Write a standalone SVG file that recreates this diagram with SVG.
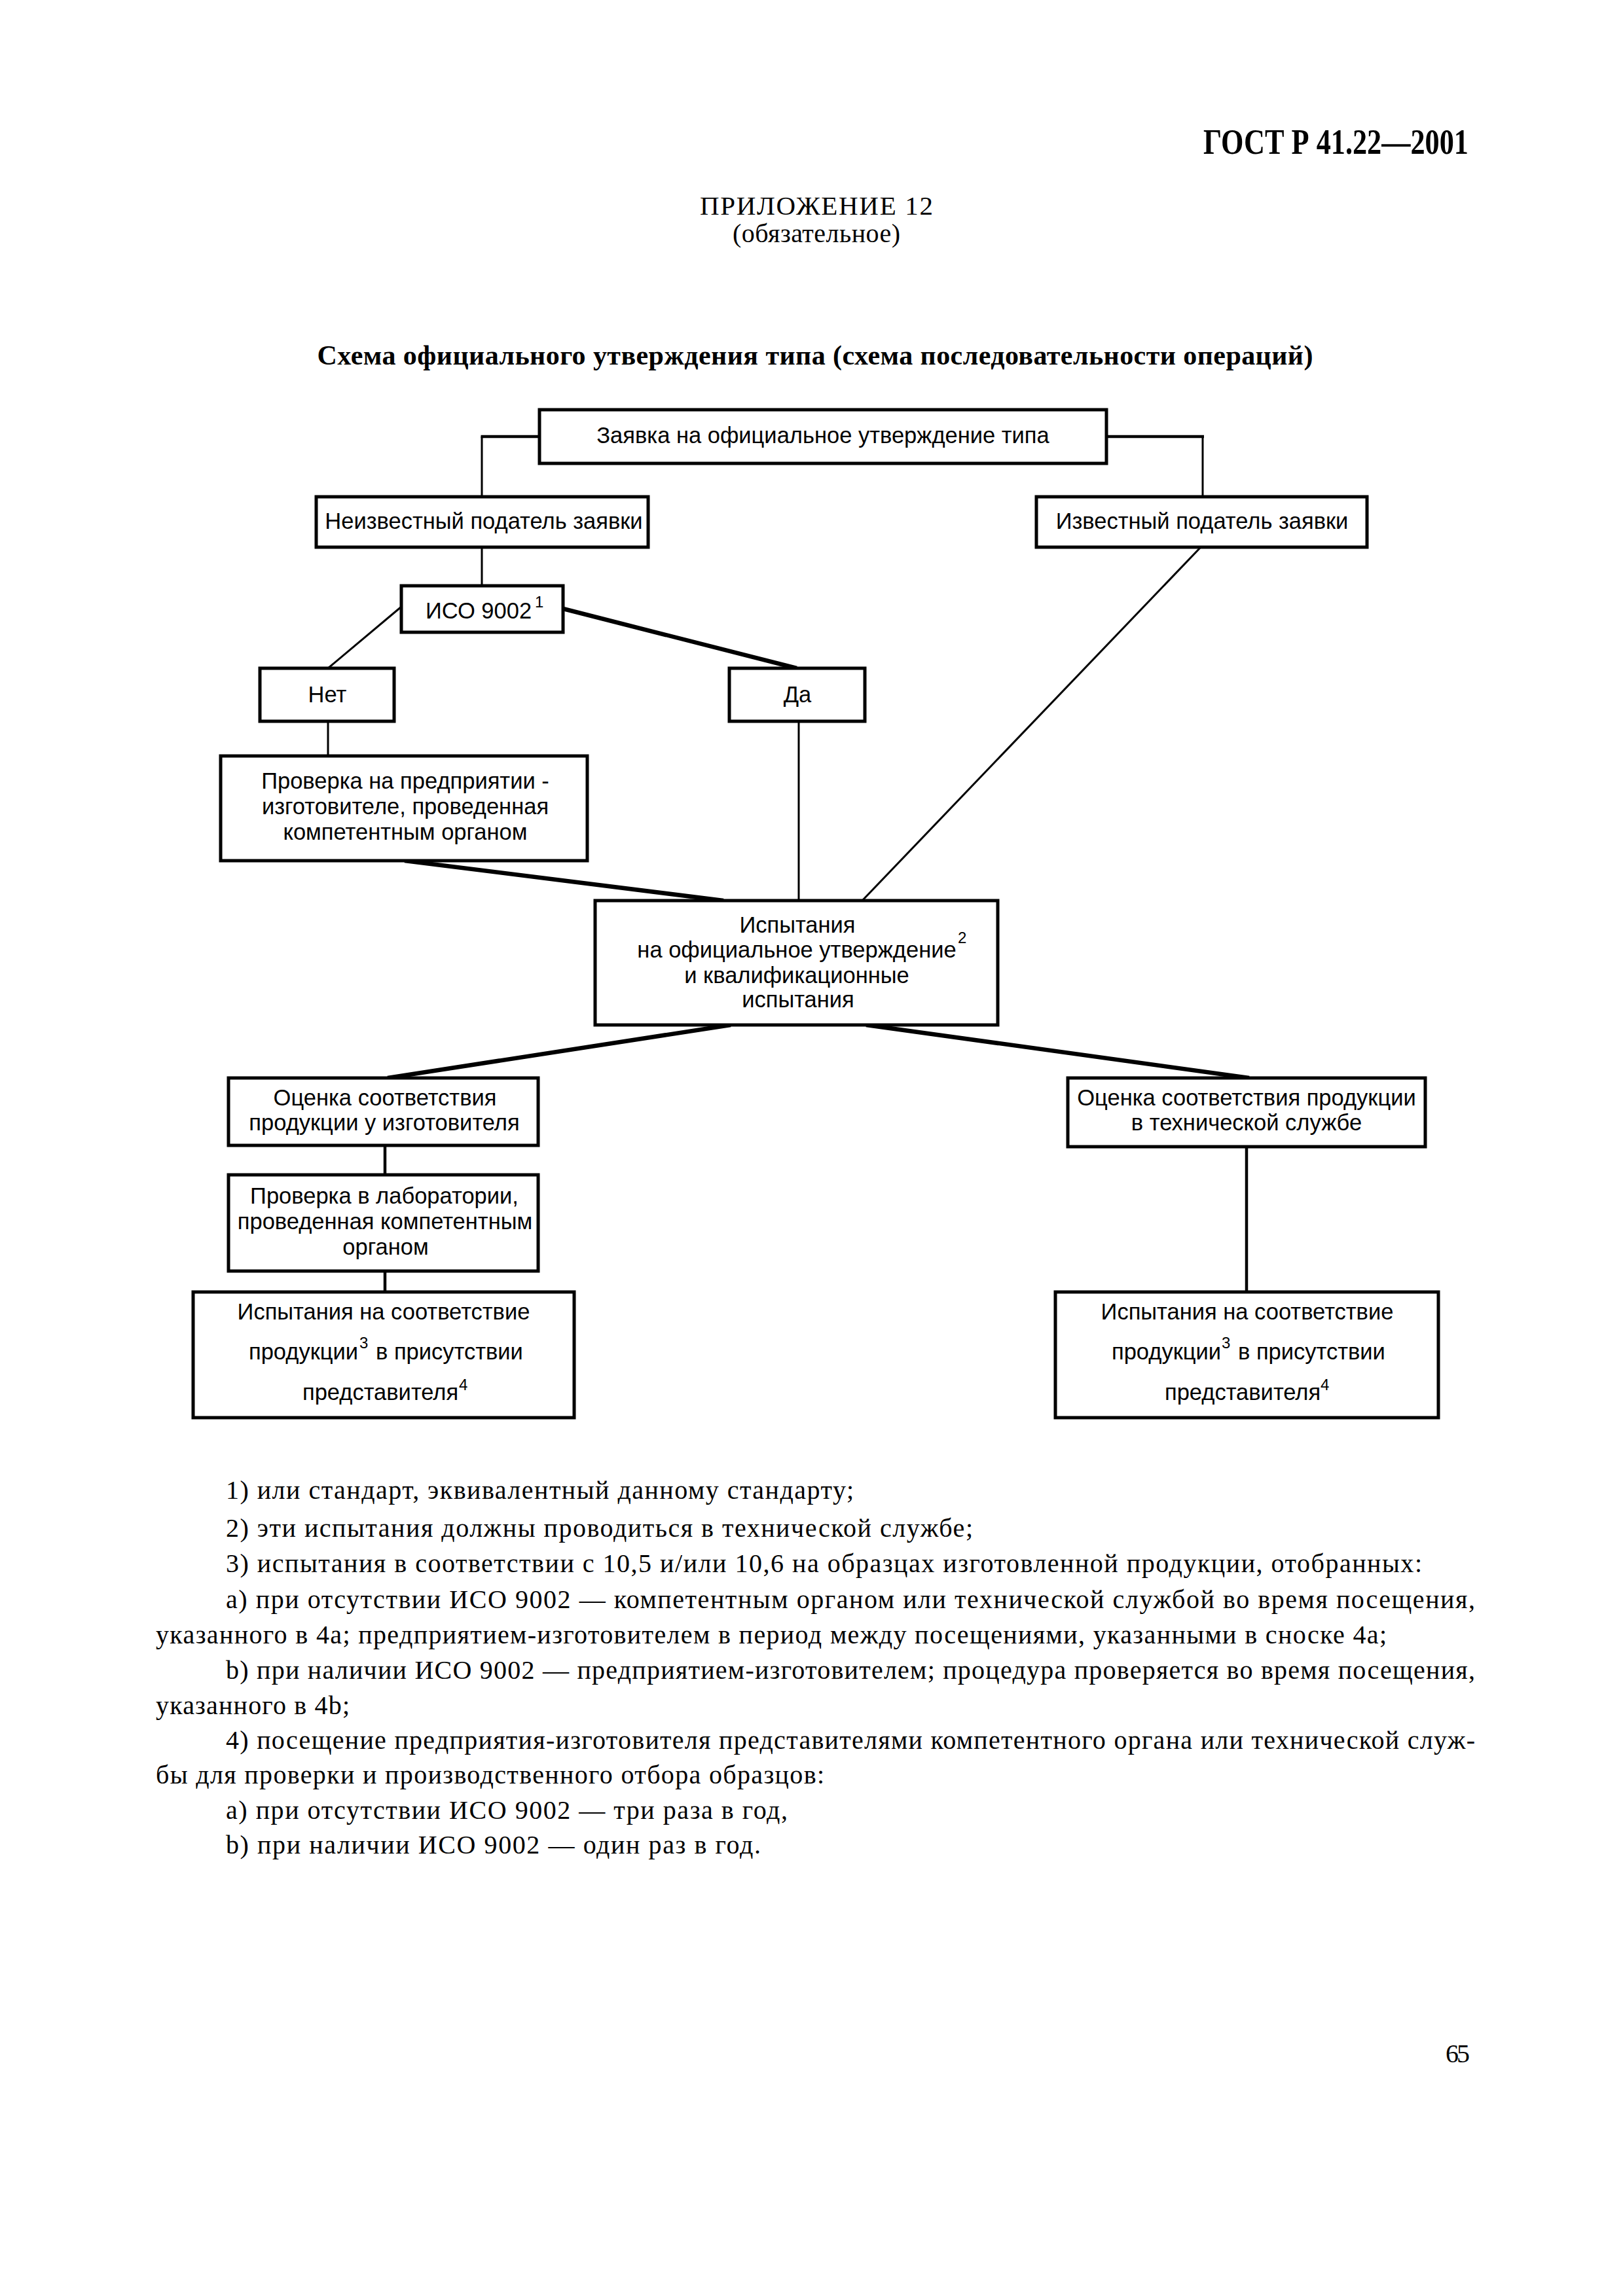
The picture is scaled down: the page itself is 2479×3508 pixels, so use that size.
<svg xmlns="http://www.w3.org/2000/svg" width="2479" height="3508" viewBox="0 0 2479 3508">
<style>
.box{fill:#fff;stroke:#000;stroke-width:5}
.c{fill:none;stroke:#000;stroke-linecap:butt}
.thin{stroke-width:3}
.mid{stroke-width:4.5}
.thick{stroke-width:6.5}
.t{font-family:"Liberation Sans",Arial,sans-serif;font-size:34.5px;fill:#000;text-anchor:middle}
.ts{font-family:"Liberation Sans",Arial,sans-serif;font-size:34.5px;fill:#000}
.sup{font-family:"Liberation Sans",Arial,sans-serif;font-size:24px;fill:#000}
.serif{font-family:"Liberation Serif","Times New Roman",serif;fill:#000}
.fn{font-family:"Liberation Serif","Times New Roman",serif;font-size:40px;fill:#000}
</style>
<rect x="0" y="0" width="2479" height="3508" fill="#fff"/>

<g id="header">
<text class="serif" x="1838" y="235" font-size="54" font-weight="bold" textLength="405" lengthAdjust="spacingAndGlyphs">ГОСТ Р 41.22—2001</text>
<text class="serif" x="1247" y="328" font-size="41" text-anchor="middle" textLength="356">ПРИЛОЖЕНИЕ 12</text>
<text class="serif" x="1247" y="370" font-size="40" text-anchor="middle" textLength="256">(обязательное)</text>
<text class="serif" x="1245" y="557" font-size="42" font-weight="bold" text-anchor="middle" textLength="1521">Схема официального утверждения типа (схема последовательности операций)</text>
</g>

<g id="connectors">
<line class="c mid" x1="824" y1="667" x2="734.5" y2="667"/>
<line class="c thin" x1="736" y1="667" x2="736" y2="759"/>
<line class="c mid" x1="1690" y1="667" x2="1839" y2="667"/>
<line class="c thin" x1="1837" y1="667" x2="1837" y2="759"/>
<line class="c thin" x1="736" y1="836" x2="736" y2="895"/>
<line class="c thin" x1="613" y1="927" x2="501" y2="1021"/>
<line class="c thick" x1="860" y1="930" x2="1217" y2="1021"/>
<line class="c thin" x1="501" y1="1102" x2="501" y2="1155"/>
<line class="c thin" x1="1220" y1="1102" x2="1220" y2="1376"/>
<line class="c thin" x1="1834" y1="836" x2="1317" y2="1376"/>
<line class="c thick" x1="618" y1="1315" x2="1105" y2="1376"/>
<line class="c thick" x1="1116" y1="1566" x2="592" y2="1647"/>
<line class="c thick" x1="1323" y1="1566" x2="1908" y2="1647"/>
<line class="c mid" x1="588" y1="1750" x2="588" y2="1795"/>
<line class="c mid" x1="588" y1="1942" x2="588" y2="1974"/>
<line class="c mid" x1="1904" y1="1752" x2="1904" y2="1974"/>
</g>

<g id="n1">
<rect class="box" x="824" y="626" width="866" height="82"/>
<text class="t" x="1257" y="677">Заявка на официальное утверждение типа</text>
</g>
<g id="n2">
<rect class="box" x="483" y="759" width="507" height="77"/>
<text class="t" x="739" y="808">Неизвестный податель заявки</text>
</g>
<g id="n3">
<rect class="box" x="1583" y="759" width="505" height="77"/>
<text class="t" x="1836" y="808">Известный податель заявки</text>
</g>
<g id="n4">
<rect class="box" x="613" y="895" width="247" height="71"/>
<text class="ts" x="650" y="945">ИСО 9002</text>
<text class="sup" x="817" y="928">1</text>
</g>
<g id="n5">
<rect class="box" x="397" y="1021" width="205" height="81"/>
<text class="t" x="500" y="1073">Нет</text>
</g>
<g id="n6">
<rect class="box" x="1114" y="1021" width="207" height="81"/>
<text class="t" x="1218" y="1073">Да</text>
</g>
<g id="n7">
<rect class="box" x="337" y="1155" width="560" height="160"/>
<text class="t" x="619" y="1205">Проверка на предприятии -</text>
<text class="t" x="619" y="1244">изготовителе, проведенная</text>
<text class="t" x="619" y="1283">компетентным органом</text>
</g>
<g id="n8">
<rect class="box" x="909" y="1376" width="615" height="190"/>
<text class="t" x="1218" y="1425">Испытания</text>
<text class="t" x="1217" y="1463">на официальное утверждение</text>
<text class="sup" x="1463" y="1441">2</text>
<text class="t" x="1217" y="1502">и квалификационные</text>
<text class="t" x="1219" y="1539">испытания</text>
</g>
<g id="n9">
<rect class="box" x="349" y="1647" width="473" height="103"/>
<text class="t" x="588" y="1689">Оценка соответствия</text>
<text class="t" x="587" y="1727">продукции у изготовителя</text>
</g>
<g id="n10">
<rect class="box" x="349" y="1795" width="473" height="147"/>
<text class="t" x="587" y="1839">Проверка в лаборатории,</text>
<text class="t" x="588" y="1878">проведенная компетентным</text>
<text class="t" x="589" y="1917">органом</text>
</g>
<g id="n11">
<rect class="box" x="295" y="1974" width="582" height="192"/>
<text class="t" x="586" y="2016">Испытания на соответствие</text>
<text class="ts" x="380" y="2077">продукции</text>
<text class="sup" x="549" y="2060">3</text>
<text class="ts" x="574" y="2077">в присутствии</text>
<text class="ts" x="462" y="2139">представителя</text>
<text class="sup" x="701" y="2124">4</text>
</g>
<g id="n12">
<rect class="box" x="1631" y="1647" width="546" height="105"/>
<text class="t" x="1904" y="1689">Оценка соответствия продукции</text>
<text class="t" x="1904" y="1727">в технической службе</text>
</g>
<g id="n13">
<rect class="box" x="1612" y="1974" width="585" height="192"/>
<text class="t" x="1905" y="2016">Испытания на соответствие</text>
<text class="ts" x="1698" y="2077">продукции</text>
<text class="sup" x="1866" y="2060">3</text>
<text class="ts" x="1891" y="2077">в присутствии</text>
<text class="ts" x="1779" y="2139">представителя</text>
<text class="sup" x="2017" y="2124">4</text>
</g>

<g id="footnotes">
<text class="fn" x="345" y="2290" textLength="959">1) или стандарт, эквивалентный данному стандарту;</text>
<text class="fn" x="345" y="2348" textLength="1141">2) эти испытания должны проводиться в технической службе;</text>
<text class="fn" x="345" y="2402" textLength="1827">3) испытания в соответствии с 10,5 и/или 10,6 на образцах изготовленной продукции, отобранных:</text>
<text class="fn" x="345" y="2457" textLength="1908">a) при отсутствии ИСО 9002 — компетентным органом или технической службой во время посещения,</text>
<text class="fn" x="238" y="2511" textLength="1880">указанного в 4а; предприятием-изготовителем в период между посещениями, указанными в сноске 4а;</text>
<text class="fn" x="345" y="2565" textLength="1908">b) при наличии ИСО 9002 — предприятием-изготовителем; процедура проверяется во время посещения,</text>
<text class="fn" x="238" y="2619" textLength="296">указанного в 4b;</text>
<text class="fn" x="345" y="2672" textLength="1908">4) посещение предприятия-изготовителя представителями компетентного органа или технической служ-</text>
<text class="fn" x="238" y="2725" textLength="1021">бы для проверки и производственного отбора образцов:</text>
<text class="fn" x="345" y="2779" textLength="858">a) при отсутствии ИСО 9002 — три раза в год,</text>
<text class="fn" x="345" y="2832" textLength="817">b) при наличии ИСО 9002 — один раз в год.</text>
</g>

<g id="page-number">
<text class="serif" x="2208" y="3151" font-size="40" textLength="37">65</text>
</g>
</svg>
